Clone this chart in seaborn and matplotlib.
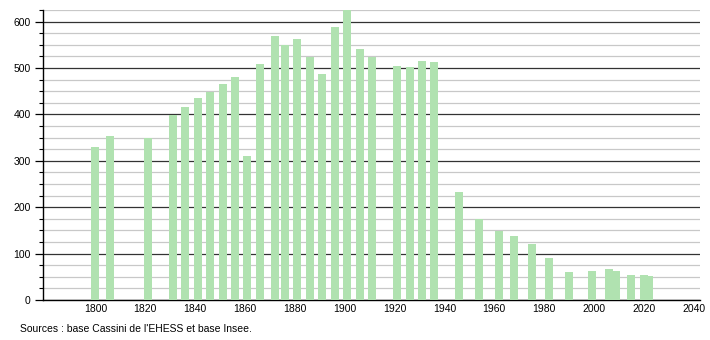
import matplotlib
matplotlib.use("Agg")
import matplotlib.pyplot as plt
import seaborn as sns
import pandas as pd
from matplotlib.ticker import MultipleLocator

years = [1800, 1806, 1821, 1831, 1836, 1841, 1846, 1851, 1856, 1861, 1866,
         1872, 1876, 1881, 1886, 1891, 1896, 1901, 1906, 1911, 1921, 1926,
         1931, 1936, 1946, 1954, 1962, 1968, 1975, 1982, 1990, 1999, 2006,
         2009, 2015, 2020, 2022]
population = [329, 353, 349, 398, 417, 435, 449, 465, 480, 310, 508,
              568, 550, 562, 524, 488, 588, 640, 542, 524, 504, 503,
              516, 512, 232, 174, 148, 139, 121, 91, 60, 63, 66,
              63, 54, 54, 52]
x_ticks = [1800, 1820, 1840, 1860, 1880, 1900, 1920, 1940, 1960, 1980, 2000, 2020, 2040]
source_text = "Sources : base Cassini de l'EHESS et base Insee."

df = pd.DataFrame({"year": years, "pop": population})

sns.set_style("white")
plt.rcParams['font.family'] = ['Liberation Sans', 'DejaVu Sans']
plt.rcParams['text.color'] = '#000000'
plt.rcParams['xtick.color'] = '#000000'
plt.rcParams['ytick.color'] = '#000000'

fig = plt.figure(figsize=(7.1, 3.4), dpi=100)
ax = fig.add_axes([43/710, 1 - 300/340, (700 - 43)/710, (300 - 10)/340])

sns.barplot(data=df, x="year", y="pop", native_scale=True, width=1.6,
            color="#b0e2b0", saturation=1, edgecolor="none", linewidth=0,
            ax=ax, zorder=3)

ax.set_xlim(1779, 2042.5)
ax.set_ylim(0, 625)
ax.yaxis.set_major_locator(MultipleLocator(100))
ax.yaxis.set_minor_locator(MultipleLocator(25))
ax.set_xticks(x_ticks)
ax.set_xticklabels([str(t) for t in x_ticks])
ax.grid(which="minor", axis="y", color="#c8c8c8", linewidth=0.9, zorder=1)
ax.grid(which="major", axis="y", color="#333333", linewidth=0.9, zorder=2)
ax.set_axisbelow(True)
ax.tick_params(axis="y", which="major", length=6, width=0.9, color="#000000",
               labelcolor="#000000", labelsize=7.5, pad=3, left=True)
ax.tick_params(axis="y", which="minor", length=3, width=0.8, color="#000000", left=True)
ax.tick_params(axis="x", length=0, labelsize=7.5, pad=3, labelcolor="#000000")
for s in ["top", "right"]:
    ax.spines[s].set_visible(False)
ax.spines["left"].set_color("#000000")
ax.spines["bottom"].set_color("#000000")
ax.spines["left"].set_linewidth(1)
ax.spines["bottom"].set_linewidth(1)
ax.set_xlabel("")
ax.set_ylabel("")

fig.text(20/710, 1 - 329/340, source_text, fontsize=7.5, va="center", ha="left",
         color="#000000")

fig.savefig("out.png", dpi=100)
